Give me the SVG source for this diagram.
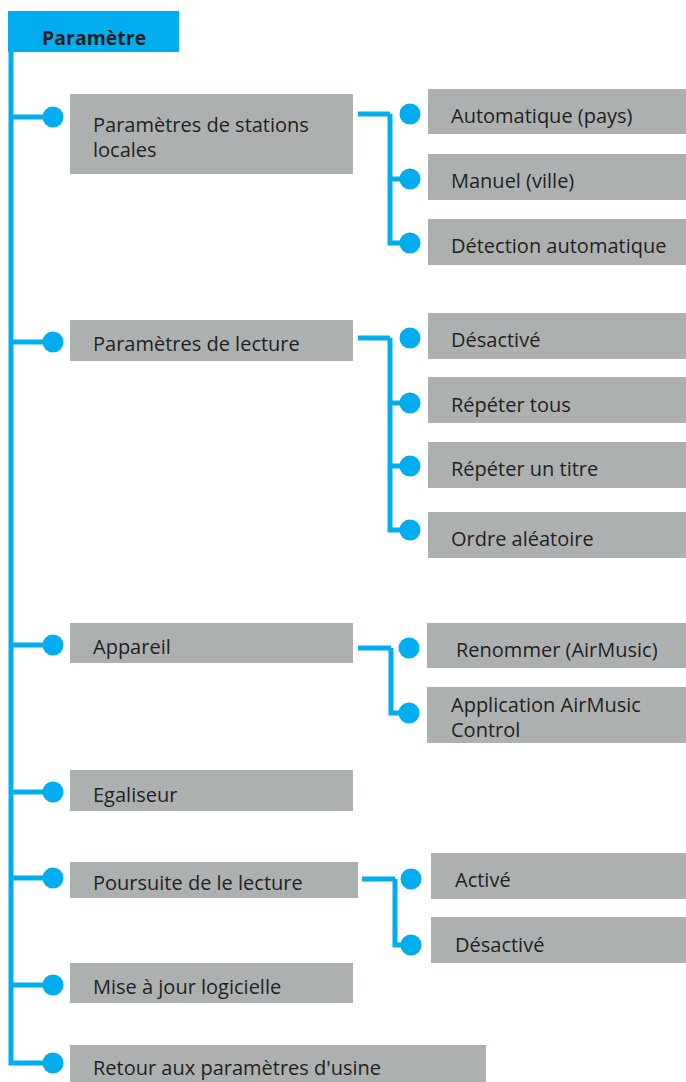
<svg xmlns="http://www.w3.org/2000/svg" width="686" height="1082" viewBox="0 0 686 1082">
<style>
.box{fill:#adb0b0}
.t{font-family:"Open Sans","Noto Sans",sans-serif;font-size:20px;fill:#231f20}
.h{font-family:"Open Sans","Noto Sans",sans-serif;font-size:19.5px;font-weight:bold;fill:#231f20}
.ln{stroke:#00aeef;stroke-width:5;fill:none}
.dot{fill:#00aeef}
</style>
<rect width="686" height="1082" fill="#ffffff"/>
<g id="connectors">
<path class="ln" d="M11 40 V1063 H52"/>
<path class="ln" d="M11 117 H52 M11 342 H52 M11 645 H52 M11 792 H52 M11 878 H52 M11 985 H52"/>
<path class="ln" d="M358 114 H390 M390 114 V243 H410 M390 179 H410"/>
<path class="ln" d="M358 338 H390 M390 338 V530 H410 M390 403 H410 M390 466 H410"/>
<path class="ln" d="M358 648 H391 M391 648 V713 H409"/>
<path class="ln" d="M362 879 H395 M395 879 V945 H411"/>
<circle class="dot" cx="53" cy="117" r="10.5"/>
<circle class="dot" cx="53" cy="342" r="10.5"/>
<circle class="dot" cx="53" cy="645" r="10.5"/>
<circle class="dot" cx="53" cy="792" r="10.5"/>
<circle class="dot" cx="53" cy="878" r="10.5"/>
<circle class="dot" cx="53" cy="985" r="10.5"/>
<circle class="dot" cx="53" cy="1063" r="10.5"/>
<circle class="dot" cx="410" cy="114" r="10.5"/>
<circle class="dot" cx="410" cy="179" r="10.5"/>
<circle class="dot" cx="410" cy="243" r="10.5"/>
<circle class="dot" cx="410" cy="338" r="10.5"/>
<circle class="dot" cx="410" cy="403" r="10.5"/>
<circle class="dot" cx="410" cy="466" r="10.5"/>
<circle class="dot" cx="410" cy="530" r="10.5"/>
<circle class="dot" cx="409" cy="648" r="10.5"/>
<circle class="dot" cx="409" cy="713" r="10.5"/>
<circle class="dot" cx="411" cy="879" r="10.5"/>
<circle class="dot" cx="411" cy="945" r="10.5"/>
</g>
<g id="root"><rect x="8" y="11" width="171" height="41" fill="#00aeef"/><text class="h" x="42" y="45">Paramètre</text></g>
<g id="n1"><rect class="box" x="70" y="94" width="283" height="80"/><text class="t" x="93" y="132">Paramètres de stations</text><text class="t" x="93" y="157">locales</text></g>
<g id="n1a"><rect class="box" x="428" y="89" width="258" height="45"/><text class="t" x="451" y="123">Automatique (pays)</text></g>
<g id="n1b"><rect class="box" x="428" y="154" width="258" height="46"/><text class="t" x="451" y="188">Manuel (ville)</text></g>
<g id="n1c"><rect class="box" x="428" y="219" width="258" height="46"/><text class="t" x="451" y="253">Détection automatique</text></g>
<g id="n2"><rect class="box" x="70" y="320" width="283" height="41"/><text class="t" x="93" y="351">Paramètres de lecture</text></g>
<g id="n2a"><rect class="box" x="428" y="313" width="258" height="46"/><text class="t" x="451" y="347">Désactivé</text></g>
<g id="n2b"><rect class="box" x="428" y="377" width="258" height="46"/><text class="t" x="451" y="412">Répéter tous</text></g>
<g id="n2c"><rect class="box" x="428" y="442" width="258" height="46"/><text class="t" x="451" y="476">Répéter un titre</text></g>
<g id="n2d"><rect class="box" x="428" y="512" width="258" height="46"/><text class="t" x="451" y="546">Ordre aléatoire</text></g>
<g id="n3"><rect class="box" x="70" y="623" width="283" height="40"/><text class="t" x="93" y="654">Appareil</text></g>
<g id="n3a"><rect class="box" x="427" y="623" width="259" height="45"/><text class="t" x="456" y="657">Renommer (AirMusic)</text></g>
<g id="n3b"><rect class="box" x="427" y="687" width="259" height="56"/><text class="t" x="451" y="712">Application AirMusic</text><text class="t" x="451" y="737">Control</text></g>
<g id="n4"><rect class="box" x="70" y="770" width="283" height="41"/><text class="t" x="93" y="802">Egaliseur</text></g>
<g id="n5"><rect class="box" x="70" y="862" width="288" height="36"/><text class="t" x="93" y="890">Poursuite de le lecture</text></g>
<g id="n5a"><rect class="box" x="431" y="853" width="255" height="46"/><text class="t" x="455" y="887">Activé</text></g>
<g id="n5b"><rect class="box" x="431" y="917" width="255" height="46"/><text class="t" x="455" y="952">Désactivé</text></g>
<g id="n6"><rect class="box" x="70" y="963" width="283" height="40"/><text class="t" x="93" y="994">Mise à jour logicielle</text></g>
<g id="n7"><rect class="box" x="70" y="1045" width="416" height="37"/><text class="t" x="93" y="1075">Retour aux paramètres d'usine</text></g>
</svg>
